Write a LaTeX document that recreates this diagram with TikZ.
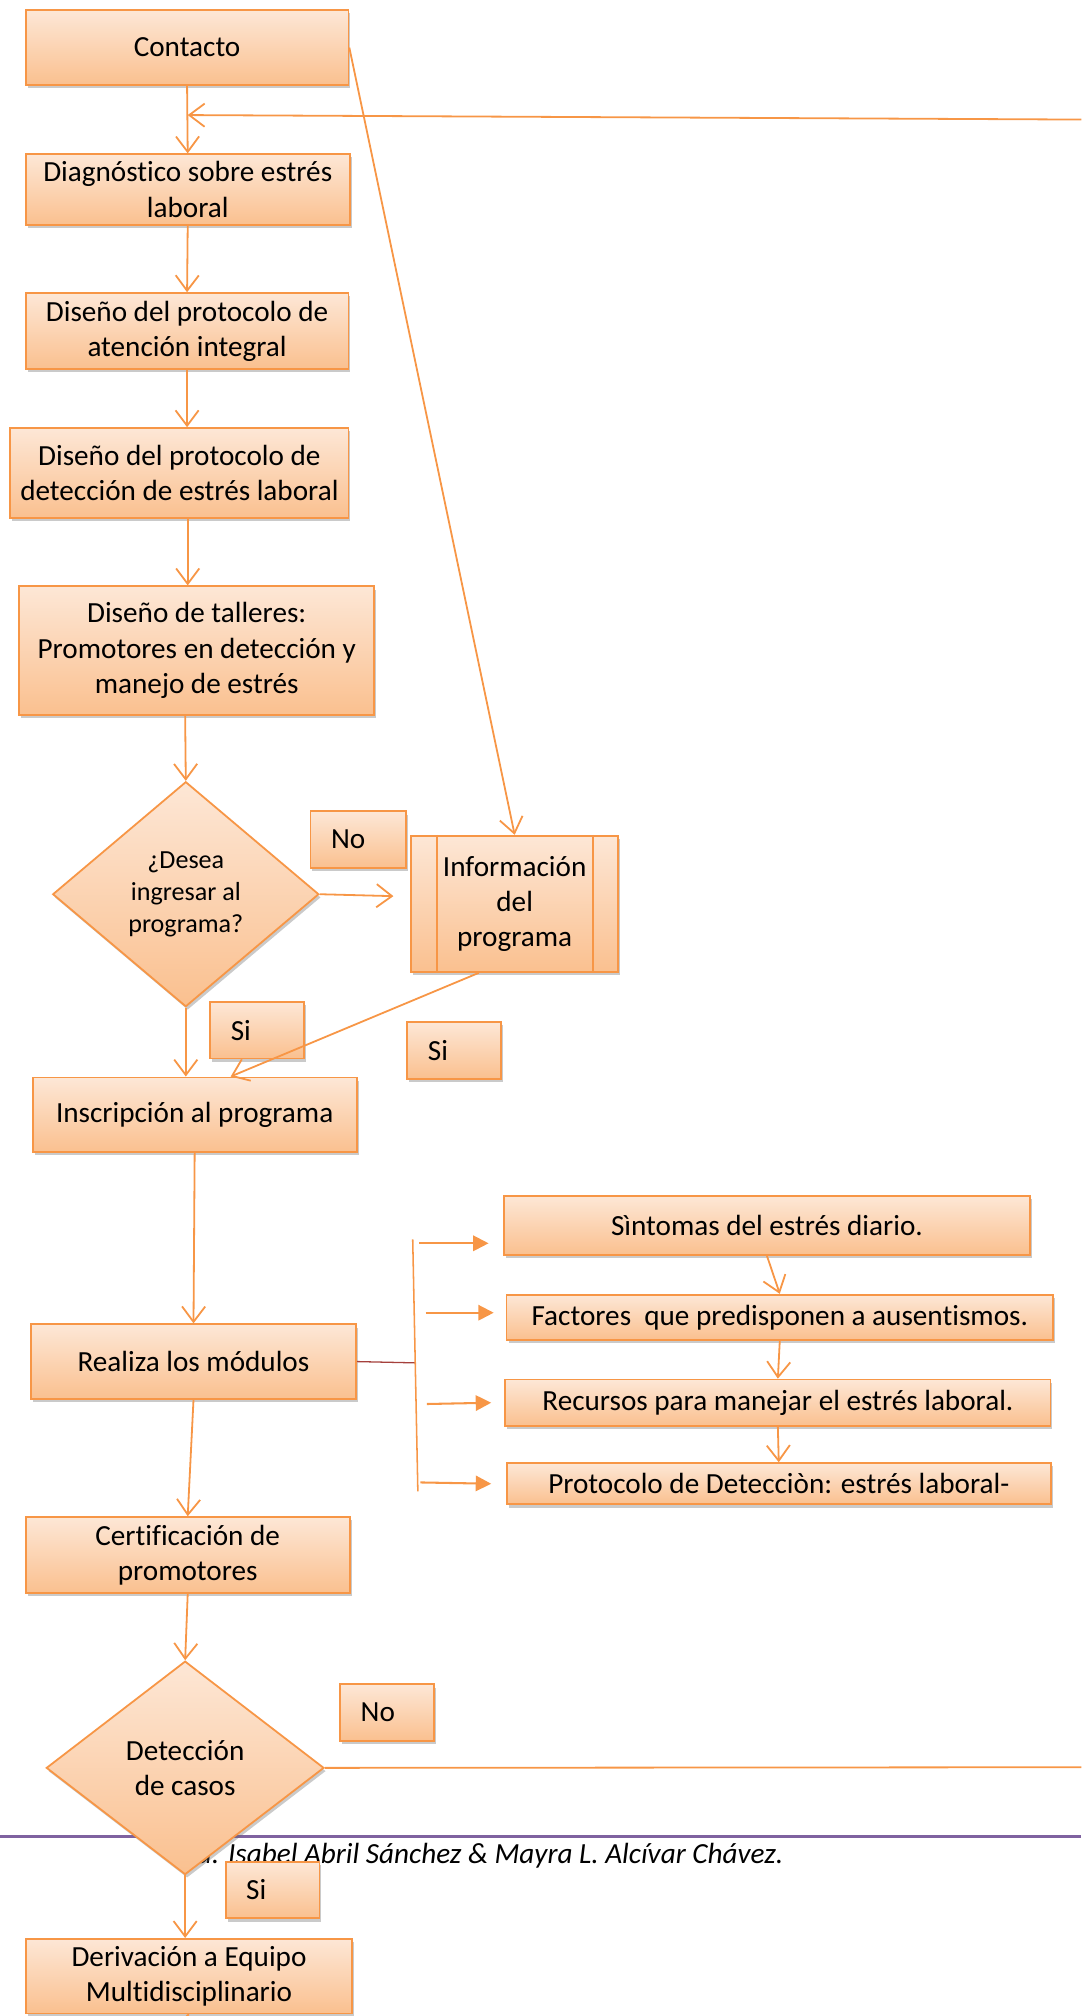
\documentclass[tikz,border=0pt]{standalone}
\usepackage{fontspec}
\setmainfont{Carlito}[Ligatures=NoCommon]
\usetikzlibrary{shapes.geometric,arrows.meta,shadows,calc}
\definecolor{ln}{HTML}{F79646}
\definecolor{ftop}{HTML}{FDE7D6}
\definecolor{fbot}{HTML}{FAC08F}
\definecolor{purp}{HTML}{7F62A0}
\definecolor{redl}{HTML}{A5403C}
\newcommand\myboxfont{\fontsize{22.7}{27.5}\selectfont}
\newcommand\mydiafont{\fontsize{20.3}{25}\selectfont}
\newcommand\myfootfont{\fontsize{22.7}{27}\selectfont}
\tikzset{
  fl/.style={draw=ln, line width=1.4pt, top color=ftop, bottom color=fbot,
    drop shadow={shadow xshift=1.5pt, shadow yshift=-2.5pt, opacity=.35, fill=black!60}},
  box/.style={fl, rectangle, align=center, inner sep=2pt, font=\myboxfont},
  dia/.style={fl, diamond, inner sep=0pt, align=center},
  lbl/.style={fl, rectangle, font=\myboxfont, align=left, text width=41pt,
    inner xsep=16pt, minimum height=44pt},
  conn/.style={draw=ln, line width=1.4pt, -{Straight Barb[length=12pt,width=18pt]}},
  plain/.style={draw=ln, line width=1.4pt},
  marr/.style={draw=ln, line width=1.6pt, -{Triangle[length=12pt,width=12pt]}},
}
\begin{document}
\begin{tikzpicture}[x=1pt,y=-1pt]
\useasboundingbox (0,0) rectangle (841,1568);
% footer
\draw[purp, line width=1.8pt] (0,1428.4) -- (841,1428.4);
\node[anchor=base west, inner sep=0pt, font=\myfootfont\itshape] (foot) at (153,1449.5)
  {a. Isabel Abril Sánchez \& Mayra L. Alcívar Chávez.};

% main column
\node[box, minimum width=251pt, minimum height=58pt] (contacto) at (145.5,37) {Contacto};
\node[box, minimum width=252pt, minimum height=55pt] (diag) at (146,147.5) {Diagnóstico sobre estrés\\laboral};
\node[box, minimum width=251pt, minimum height=59pt] (aten) at (145.5,257.5) {Diseño del protocolo de\\atención integral};
\node[box, minimum width=263pt, minimum height=70pt] (detec) at (139.5,368) {Diseño del protocolo de\\detección de estrés laboral};
\node[box, minimum width=276pt, minimum height=100pt] (talleres) at (153,506) {Diseño de talleres:\\Promotores en detección y\\manejo de estrés};
\node[dia, minimum width=207pt, minimum height=175pt, font=\mydiafont] (desea) at (144.5,695.5) {¿Desea\\ingresar al\\programa?};
\node[lbl, text width=42pt] (no1) at (278.5,653) {No};
\node[box, minimum width=161pt, minimum height=106pt] (info) at (400.3,703) {Información\\del\\programa};
\draw[plain] ([xshift=21pt]info.north west) -- ([xshift=21pt]info.south west);
\draw[plain] ([xshift=-20pt]info.north east) -- ([xshift=-20pt]info.south east);
\node[lbl] (si1) at (200,801.3) {Si};
\node[lbl] (si2) at (353.3,817) {Si};
\node[box, minimum width=252pt, minimum height=58pt] (inscr) at (151.4,867) {Inscripción al programa};
\node[box, minimum width=253pt, minimum height=58pt] (realiza) at (150.5,1059) {Realiza los módulos};
\node[box, minimum width=252pt, minimum height=59pt] (cert) at (146,1209.5) {Certificación de\\promotores};
\node[dia, minimum width=216pt, minimum height=166pt, font=\myboxfont] (detcas) at (144,1375) {Detección\\de casos};
\node[lbl] (no2) at (301,1332) {No};
\node[lbl] (si3) at (212,1470) {Si};
\node[box, minimum width=254pt, minimum height=58pt] (deriv) at (147,1537) {Derivación a Equipo\\Multidisciplinario};

% modules
\node[box, minimum width=409pt, minimum height=46pt] (sint) at (596.5,953) {Sìntomas del estrés diario.};
\node[box, minimum width=425pt, minimum height=35pt] (fact) at (606.5,1024.5) {Factores~ que predisponen a ausentismos.};
\node[box, minimum width=424pt, minimum height=36pt] (recu) at (605,1091) {Recursos para manejar el estrés laboral.};
\node[box, minimum width=423pt, minimum height=32pt] (prot) at (605.7,1154) {Protocolo de Detecciòn: estrés laboral-};

% coordinates
\coordinate (fbR) at (841,93);
\coordinate (fbL) at (146,89.5);
\coordinate (fb2) at (841,1374.5);
\coordinate (ia) at (306,697);
\coordinate (dend) at (145,1568);
\coordinate (brT) at (321,964);
\coordinate (brB) at (325,1160);
\coordinate (brM) at (323,1060);
\coordinate (a1s) at (326,967);   \coordinate (a1e) at (380,967);
\coordinate (a2s) at (331,1021);  \coordinate (a2e) at (384,1021);
\coordinate (a3s) at (332,1092);  \coordinate (a3e) at (382,1091);
\coordinate (a4s) at (327,1153);  \coordinate (a4e) at (382,1154);

% connectors
\draw[conn] (contacto.south) -- (diag.north);
\draw[conn] (fbR) -- (fbL);
\draw[conn] (contacto.east) -- (info.north);
\draw[conn] (diag.south) -- (aten.north);
\draw[conn] (aten.south) -- (aten.south |- detec.north);
\draw[conn] ($(detec.south)+(6.5,0)$) -- ($(talleres.north)+(-7,0)$);
\draw[conn] ($(talleres.south)+(-9,0)$) -- (desea.north);
\draw[conn] (desea.east) -- (ia);
\draw[conn] (desea.south) -- (desea.south |- inscr.north);
\draw[conn] ($(info.south)+(-28,0)$) -- ($(inscr.north)+(28,0)$);
\draw[conn] (inscr.south) -- (realiza.north);
\draw[conn] (realiza.south) -- (cert.north);
\draw[conn] (cert.south) -- (detcas.north);
\draw[plain] (detcas.east) -- (fb2);
\draw[conn] (detcas.south) -- (detcas.south |- deriv.north);
\draw[plain] (deriv.south) -- (dend);

\draw[redl, line width=1pt] (realiza.east) -- (brM);
\draw[draw=ln, line width=1.2pt] (brT) -- (brB);
\draw[marr] (a1s) -- (a1e);
\draw[marr] (a2s) -- (a2e);
\draw[marr] (a3s) -- (a3e);
\draw[marr] (a4s) -- (a4e);
\draw[conn] (sint.south) -- (fact.north);
\draw[conn] (fact.south) -- (recu.north);
\draw[conn] (recu.south) -- (prot.north);
\end{tikzpicture}
\end{document}
